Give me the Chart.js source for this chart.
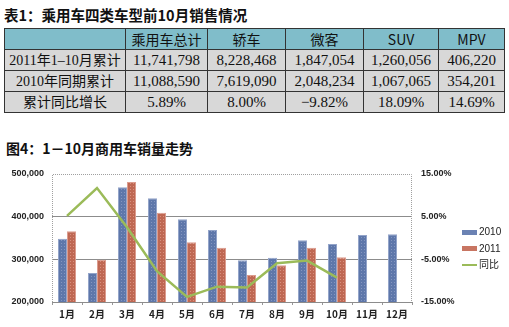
<!DOCTYPE html>
<html>
<head>
<meta charset="utf-8">
<script src="https://cdn.jsdelivr.net/npm/chart.js@4.4.1/dist/chart.umd.min.js"></script>
<style>
  html, body { margin: 0; padding: 0; background: #fff; }
  body { width: 509px; height: 327px; position: relative; overflow: hidden; }
  .ttl { position: absolute; left: 4px; font-family: "Noto Sans CJK SC", sans-serif; font-weight: bold; font-size: 14.5px; color: #111; white-space: nowrap; }
  #t1 { top: 4px; }
  #t2 { top: 138px; left: 6px; font-size: 14px; }
  #tbl { position: absolute; left: 4px; top: 28px; width: 500px; border-collapse: collapse; table-layout: fixed; }
  #tbl td { border: 1px solid #333; text-align: center; padding: 0; height: 20px; line-height: 19px; white-space: nowrap; overflow: hidden; color: #111; }
  #tbl tr.head td { background: #80bdca; font-family: "Noto Sans CJK SC", sans-serif; font-size: 14px; }
  #tbl tr.body td { background: #d8d8d8; font-family: "Liberation Serif", "Noto Sans CJK SC", serif; font-size: 15px; }
  #tbl tr.body td.lab { font-size: 14px; }
  #box { position: absolute; left: 0; top: 155px; }
  #legend { position: absolute; left: 462px; top: 226px; font-family: "Liberation Sans", "Noto Sans CJK SC", sans-serif; font-size: 10px; color: #222; }
  #legend div { height: 16.5px; line-height: 12px; white-space: nowrap; }
  #legend span.sw { display: inline-block; width: 15px; vertical-align: middle; margin-right: 2px; }
</style>
</head>
<body>
<div class="ttl" id="t1">表1：乘用车四类车型前10月销售情况</div>
<table id="tbl"></table>
<div class="ttl" id="t2">图4：1－10月商用车销量走势</div>
<div id="box"><canvas id="c4" width="509" height="172"></canvas></div>
<div id="legend"></div>

<script>
// 表1 数据
var tableCols = ['', '乘用车总计', '轿车', '微客', 'SUV', 'MPV'];
var rowLabels = ['2011年1–10月累计', '2010年同期累计', '累计同比增长'];
var sales2011 = ['11,741,798', '8,228,468', '1,847,054', '1,260,056', '406,220'];
var sales2010 = ['11,088,590', '7,619,090', '2,048,234', '1,067,065', '354,201'];
var growth = ['5.89%', '8.00%', '−9.82%', '18.09%', '14.69%'];

// 图4 数据
var months = ['1月', '2月', '3月', '4月', '5月', '6月', '7月', '8月', '9月', '10月', '11月', '12月'];
var v2010 = [348000, 268000, 469000, 443000, 394000, 369000, 298000, 304000, 345000, 336000, 357000, 359000];
var v2011 = [366000, 299000, 481000, 409000, 340000, 327000, 263000, 286000, 327000, 305000];
var yoy = [5.2, 11.7, 2.5, -7.8, -13.8, -11.4, -11.6, -5.9, -5.3, -9.3];

// 生成表格
var colW = [121, 82, 78, 78, 75, 66];
var tbl = document.getElementById('tbl');
var html = '<colgroup>' + colW.map(function (w) { return '<col style="width:' + w + 'px">'; }).join('') + '</colgroup>';
html += '<tr class="head">' + tableCols.map(function (c) { return '<td>' + c + '</td>'; }).join('') + '</tr>';
[sales2011, sales2010, growth].forEach(function (row, i) {
    html += '<tr class="body"><td class="lab">' + rowLabels[i] + '</td>' + row.map(function (v) { return '<td>' + v + '</td>'; }).join('') + '</tr>';
});
tbl.innerHTML = html;

// 柱子的点状纹理
function dots(base, dot) {
    var p = document.createElement('canvas');
    p.width = 3; p.height = 3;
    var g = p.getContext('2d');
    g.fillStyle = base;
    g.fillRect(0, 0, 3, 3);
    g.fillStyle = dot;
    g.fillRect(1, 1, 1, 1);
    return g.createPattern(p, 'repeat');
}
var ctx = document.getElementById('c4').getContext('2d');
var blue = dots('#5e77aa', '#8496c0');
var red = dots('#bf6853', '#d9907f');

// 虚线边框
var frame = {
    id: 'frame',
    beforeDatasetsDraw: function (chart) {
        var a = chart.chartArea, c = chart.ctx;
        c.save();
        c.strokeStyle = '#a0a0a0';
        c.lineWidth = 1;
        c.setLineDash([1, 1]);
        c.beginPath();
        c.moveTo(a.left + 0.5, a.bottom);
        c.lineTo(a.left + 0.5, a.top + 0.5);
        c.lineTo(a.right - 0.5, a.top + 0.5);
        c.lineTo(a.right - 0.5, a.bottom);
        c.stroke();
        c.restore();
    }
};

var tickFont = { family: '"Liberation Sans", "Noto Sans CJK SC", sans-serif', size: 9, weight: 'bold' };

new Chart(ctx, {
    type: 'bar',
    data: {
        labels: months,
        datasets: [{
            label: '2010',
            data: v2010,
            backgroundColor: blue,
            borderColor: '#93a4c9',
            borderWidth: 1,
            yAxisID: 'y',
            order: 1
        }, {
            label: '2011',
            data: v2011,
            backgroundColor: red,
            borderColor: '#dc9c8e',
            borderWidth: 1,
            yAxisID: 'y',
            order: 1
        }, {
            type: 'line',
            label: '同比',
            data: yoy,
            borderColor: '#9bbb59',
            borderWidth: 2.5,
            pointRadius: 0,
            tension: 0,
            yAxisID: 'y1',
            order: 0
        }]
    },
    options: {
        responsive: false,
        animation: false,
        layout: { padding: { left: 0, right: 52, top: 19, bottom: 5 } },
        plugins: { legend: { display: false }, tooltip: { enabled: false } },
        datasets: { bar: { categoryPercentage: 0.6, barPercentage: 1.0 } },
        scales: {
            x: {
                grid: { display: true, drawOnChartArea: false, offset: true, tickLength: 3, color: '#999' },
                border: { color: '#8c8c8c' },
                ticks: { font: { family: '"Noto Sans CJK SC", sans-serif', size: 10, weight: 'bold' }, color: '#222', padding: 3 },
                afterFit: function (s) { s.height = 20; }
            },
            y: {
                position: 'left',
                min: 200000,
                max: 500000,
                ticks: {
                    stepSize: 100000,
                    font: tickFont,
                    color: '#222',
                    padding: 8,
                    callback: function (v) { return v.toLocaleString('en-US'); }
                },
                grid: {
                    drawTicks: false,
                    color: function (c) {
                        var v = c.tick && c.tick.value;
                        return (v === 300000 || v === 400000) ? '#8c8c8c' : 'rgba(0,0,0,0)';
                    }
                },
                border: { display: false },
                afterFit: function (s) { s.width = 52; }
            },
            y1: {
                position: 'right',
                min: -15,
                max: 15,
                ticks: {
                    stepSize: 10,
                    font: tickFont,
                    color: '#222',
                    padding: 9,
                    callback: function (v) { return v.toFixed(2) + '%'; }
                },
                grid: { drawOnChartArea: false, drawTicks: false },
                border: { display: false },
                afterFit: function (s) { s.width = 45; }
            }
        }
    },
    plugins: [frame]
});

// 图例
var lg = document.getElementById('legend');
lg.innerHTML =
    '<div><span class="sw" style="height:5px;background:#6b82b3"></span>2010</div>' +
    '<div><span class="sw" style="height:5px;background:#c87562"></span>2011</div>' +
    '<div><span class="sw" style="height:2px;background:#9bbb59"></span>同比</div>';
</script>
</body>
</html>
